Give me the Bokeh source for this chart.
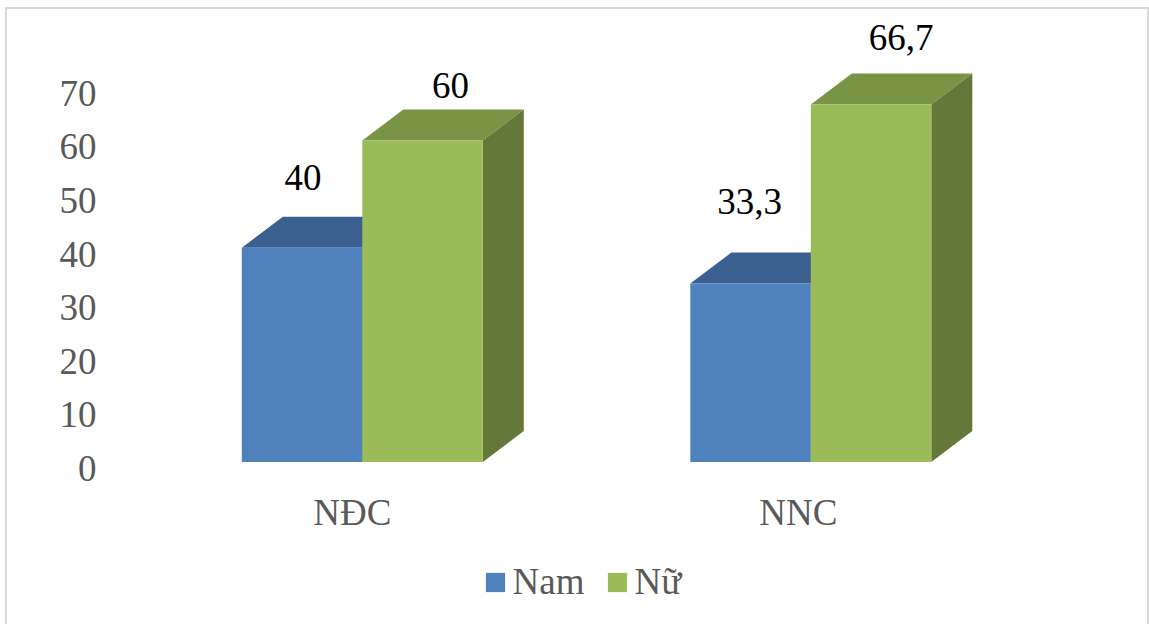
from bokeh.core.properties import value
from bokeh.embed import file_html
from bokeh.models import ColumnDataSource, FixedTicker, InlineStyleSheet, Legend, LegendItem, LinearAxis, Range1d
from bokeh.plotting import figure
from bokeh.resources import INLINE

categories = ["NĐC", "NNC"]
nam = [40, 33.3]
nu = [60, 66.7]
nam_labels = ["40", "33,3"]
nu_labels = ["60", "66,7"]
y_ticks = [0, 10, 20, 30, 40, 50, 60, 70]

SERIF = "Liberation Serif"
GREY = "#595959"

# Plot geometry in pixels
W, H = 1149, 624
LEFT = 105
BAR_W = 120.5 / 448.5
PX_X = 448.5          # pixels per category step
PX_Y = 5.36           # pixels per y unit
BASE_PX = 461.6       # page row of value 0
FIRST_X = 361.8       # page column of the first category's centre
DEPTH_X = 41 / PX_X   # oblique depth of the 3-D columns
DEPTH_Y = 31 / PX_Y

x_range = Range1d((LEFT - FIRST_X) / PX_X, (W - FIRST_X) / PX_X)
y_range = Range1d((BASE_PX - H) / PX_Y, BASE_PX / PX_Y)

# Thin frame around the chart, open past the bottom edge of the page
frame_css = InlineStyleSheet(css="""
:host { overflow: hidden; }
:host::after {
  content: ""; position: absolute; left: 5px; top: 7px; width: 1144px; height: 660px;
  border: 2px solid #D9D9D9; box-sizing: border-box; pointer-events: none;
}
""")

p = figure(width=W, height=H, x_range=x_range, y_range=y_range,
           output_backend="svg", toolbar_location=None,
           min_border_left=LEFT, min_border_right=0, min_border_top=0, min_border_bottom=0,
           outline_line_color=None, background_fill_color="white", border_fill_color="white",
           x_axis_location=None, y_axis_location=None, stylesheets=[frame_css])
p.grid.visible = False

# The value labels sit a little below their 3-D floor level, so the axis has its own shifted range
p.extra_y_ranges["ticks"] = Range1d((468 - H) / PX_Y, 468 / PX_Y)
axis = LinearAxis(y_range_name="ticks", ticker=FixedTicker(ticks=y_ticks),
                  axis_line_color=None, major_tick_line_color=None, minor_tick_line_color=None,
                  major_label_text_font=SERIF, major_label_text_font_size="37px",
                  major_label_text_color=GREY, major_label_standoff=3)
p.add_layout(axis, "left")


def column(i, offset, val, front, top, side):
    """Draw one oblique 3-D column whose front face spans offset..offset+BAR_W around category i."""
    x0, x1 = i + offset, i + offset + BAR_W
    p.patch([x0, x0 + DEPTH_X, x1 + DEPTH_X, x1], [val, val + DEPTH_Y, val + DEPTH_Y, val],
            fill_color=top, line_color=None)
    p.patch([x1, x1 + DEPTH_X, x1 + DEPTH_X, x1], [0, DEPTH_Y, val + DEPTH_Y, val],
            fill_color=side, line_color=None)
    return p.vbar(x=[(x0 + x1) / 2], width=BAR_W, bottom=0, top=[val], fill_color=front, line_color=None)


nam_bars = [column(i, -BAR_W, v, "#4F81BD", "#3B6090", "#2F4D73") for i, v in enumerate(nam)]
nu_bars = [column(i, 0, v, "#9BBB59", "#7A9446", "#647839") for i, v in enumerate(nu)]

# Value labels above each column
label_source = ColumnDataSource(dict(
    x=[i - BAR_W / 2 for i in range(2)] + [i + BAR_W / 2 for i in range(2)],
    y=nam + nu,
    text=nam_labels + nu_labels,
    dx=[1, -1, 28, 30],
    dy=[-70, -82, -55.5, -67.5],
))
p.text(x="x", y="y", text="text", x_offset="dx", y_offset="dy", source=label_source, text_align="center",
       text_baseline="middle", text_font=value(SERIF), text_font_size="37px", text_color="black")

# Category names under the columns
category_source = ColumnDataSource(dict(x=[0, 1], y=[-50 / PX_Y] * 2, text=categories, dx=[-10, -12.5]))
p.text(x="x", y="y", text="text", x_offset="dx", source=category_source, text_align="center",
       text_baseline="middle", text_font=value(SERIF), text_font_size="37px", text_color=GREY)

legend = Legend(items=[LegendItem(label="Nam", renderers=[nam_bars[0]]),
                       LegendItem(label="Nữ", renderers=[nu_bars[0]])],
                orientation="horizontal", location=(377.6, 21), background_fill_alpha=0, border_line_color=None,
                glyph_width=24, glyph_height=24, label_text_font=SERIF, label_text_font_size="37px",
                label_text_color=GREY, label_standoff=6, spacing=20, padding=0, margin=0)
p.add_layout(legend, "center")

open("out.html", "w").write(file_html(p, INLINE))
